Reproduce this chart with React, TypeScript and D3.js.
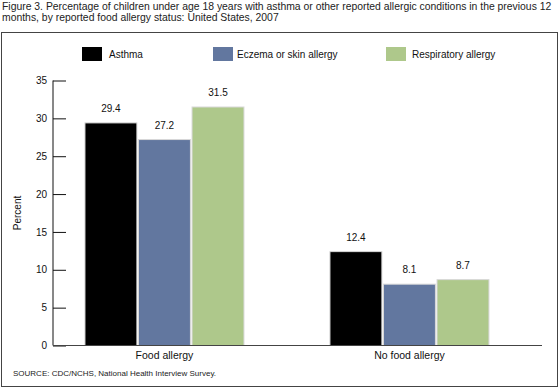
import React, { useEffect, useRef } from "react";
import * as d3 from "d3";

const categories = ["Food allergy", "No food allergy"];
const seriesNames = ["Asthma", "Eczema or skin allergy", "Respiratory allergy"];
const asthma = [29.4, 12.4];
const eczema = [27.2, 8.1];
const respiratory = [31.5, 8.7];
const yTicks = [0, 5, 10, 15, 20, 25, 30, 35];
const titleLines = [
  "Figure 3. Percentage of children under age 18 years with asthma or other reported allergic conditions in the previous 12",
  "months, by reported food allergy status: United States, 2007",
];
const source = "SOURCE: CDC/NCHS, National Health Interview Survey.";

const colors = ["#000000", "#62779f", "#aec88b"];
const font = "'Liberation Sans', Arial, Helvetica, sans-serif";

export default function App() {
  const ref = useRef<SVGSVGElement>(null);

  useEffect(() => {
    drawChart();
  }, []);

  function drawChart() {
    const svg = d3.select(ref.current);
    svg.selectAll("*").remove();
    svg.style("font-family", font);

    const left = 53, right = 542, top = 80.5, bottom = 345.5;

    // title
    svg.append("g")
      .selectAll("text")
      .data(titleLines)
      .enter()
      .append("text")
      .attr("x", 2)
      .attr("y", (d, i) => 9.5 + i * 11)
      .attr("font-size", 10.4)
      .attr("fill", "#222")
      .text(d => d);

    // frame
    svg.append("rect")
      .attr("x", 1.5)
      .attr("y", 32.5)
      .attr("width", 556)
      .attr("height", 354)
      .attr("fill", "none")
      .attr("stroke", "#444")
      .attr("stroke-width", 1);

    const y = d3.scaleLinear().domain([0, 35]).range([bottom, top]);

    const x0 = d3.scaleBand()
      .domain(categories)
      .range([left, right])
      .paddingInner(0.351)
      .paddingOuter(0.1735)
      .align(0.376);

    const x1 = d3.scaleBand()
      .domain(seriesNames)
      .range([0, x0.bandwidth()])
      .paddingInner(0.03);

    const series = [asthma, eczema, respiratory];

    // y axis
    const yAxis = d3.axisLeft(y).tickValues(yTicks).tickSize(-13).tickPadding(20);
    const gy = svg.append("g")
      .attr("transform", `translate(${left},0)`)
      .call(yAxis);
    gy.select(".domain").remove();
    gy.selectAll("line").attr("stroke", "#111");
    gy.selectAll("text")
      .attr("font-size", 10)
      .attr("font-family", font)
      .attr("fill", "#111")
      .attr("x", -6);
    svg.append("line")
      .attr("x1", left).attr("x2", left)
      .attr("y1", top).attr("y2", bottom)
      .attr("stroke", "#111");

    svg.append("text")
      .attr("transform", `translate(21,${(top + bottom) / 2}) rotate(-90)`)
      .attr("text-anchor", "middle")
      .attr("font-size", 10)
      .attr("fill", "#111")
      .text("Percent");

    // bars
    const groups = svg.append("g")
      .selectAll("g")
      .data(categories)
      .enter()
      .append("g")
      .attr("transform", d => `translate(${x0(d)},0)`);

    groups.selectAll("rect")
      .data((c, ci) => seriesNames.map((s, si) => ({ s, si, v: series[si][ci] })))
      .enter()
      .append("rect")
      .attr("x", d => x1(d.s)!)
      .attr("y", d => y(d.v))
      .attr("width", x1.bandwidth())
      .attr("height", d => bottom - y(d.v))
      .attr("fill", d => colors[d.si])
      .attr("stroke", "#d8d8d8")
      .attr("stroke-width", 1);

    groups.selectAll("text.val")
      .data((c, ci) => seriesNames.map((s, si) => ({ s, si, v: series[si][ci] })))
      .enter()
      .append("text")
      .attr("class", "val")
      .attr("x", d => x1(d.s)! + x1.bandwidth() / 2)
      .attr("y", d => y(d.v) - 11)
      .attr("text-anchor", "middle")
      .attr("font-size", 10)
      .attr("fill", "#111")
      .text(d => d.v.toFixed(1));

    // x axis
    svg.append("line")
      .attr("x1", left).attr("x2", right)
      .attr("y1", bottom).attr("y2", bottom)
      .attr("stroke", "#444")
      .attr("stroke-width", 1.2);

    svg.append("g")
      .selectAll("text")
      .data(categories)
      .enter()
      .append("text")
      .attr("x", d => x0(d)! + x0.bandwidth() / 2)
      .attr("y", 359)
      .attr("text-anchor", "middle")
      .attr("font-size", 10.5)
      .attr("fill", "#111")
      .text(d => d);

    // legend
    const legendX = [82, 213, 386];
    const legend = svg.append("g")
      .selectAll("g")
      .data(seriesNames)
      .enter()
      .append("g")
      .attr("transform", (d, i) => `translate(${legendX[i]},47)`);
    legend.append("rect")
      .attr("width", 20)
      .attr("height", 14)
      .attr("fill", (d, i) => colors[i]);
    legend.append("text")
      .attr("x", (d, i) => (i === 2 ? 26 : i === 1 ? 24 : 27))
      .attr("y", 10.5)
      .attr("font-size", 10)
      .attr("fill", "#111")
      .text(d => d);

    // source
    svg.append("text")
      .attr("x", 13)
      .attr("y", 376)
      .attr("font-size", 8)
      .attr("fill", "#222")
      .text(source);
  }

  return (
    <svg
      ref={ref}
      width={560}
      height={388}
      style={{ position: "absolute", left: 0, top: 0, background: "#fff" }}
    />
  );
}
